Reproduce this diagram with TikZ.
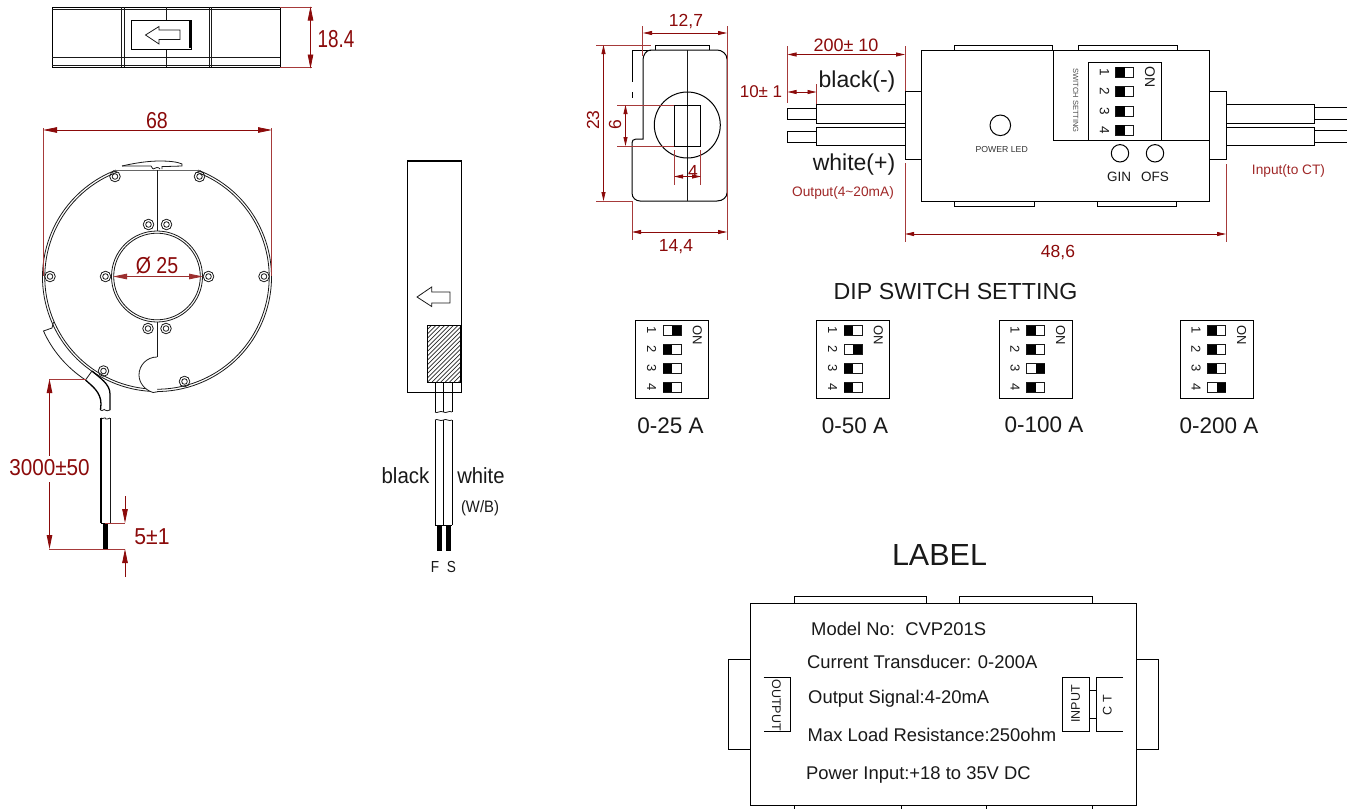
\documentclass[tikz,border=0pt]{standalone}
\usepackage{fontspec}
\usepackage{graphicx}
\setmainfont{Liberation Sans}
\usetikzlibrary{arrows.meta}
\definecolor{dimred}{HTML}{8B0A0A}
\definecolor{extred}{HTML}{A63A3A}
\definecolor{notered}{HTML}{A02828}
\newcommand{\fs}[1]{\fontsize{#1}{#1}\selectfont}
\newcommand{\cond}[2]{\scalebox{#1}[1]{#2}}
\tikzset{
  obj/.style={draw=black,line width=1pt},
  thin obj/.style={draw=black!90,line width=.8pt},
  dimline/.style={draw=dimred,line width=.8pt},
  extline/.style={draw=extred,line width=.8pt},
  big/.style={dimline,{Triangle[length=14pt,width=5.5pt]}-{Triangle[length=14pt,width=5.5pt]}},
  small/.style={dimline,{Triangle[length=9pt,width=4pt]}-{Triangle[length=9pt,width=4pt]}},
  dimtext/.style={text=dimred,inner sep=0pt},
  lbl/.style={text=black!90,inner sep=0pt},
  lefttext/.style={lbl,anchor=west,font=\fs{18.4}}
}
\newcommand{\screw}[2]{%
  \draw[thin obj] (#1,#2) circle[radius=5.3];
  \draw[thin obj] (#1,#2) circle[radius=2.8];}
% #1 left edge of switch, #2 top y, #3 height, #4 1 if inverted
\newcommand{\sw}[4]{%
  \draw[thin obj] (#1,#2) rectangle ++(18,#3);
  \ifnum#4=1
    \fill[black] (#1+9,#2) rectangle ++(9,#3);
  \else
    \fill[black] (#1,#2) rectangle ++(9,#3);
  \fi}
% #1 box left, #2 inverted row
\newcommand{\dipbox}[3]{%
  \draw[obj] (#1,320) rectangle ++(73,78.3);
  \foreach \r/\yy in {1/325.7,2/344.6,3/363.5,4/382.7}{
    \ifnum\r=#2 \sw{#1+27.6}{\yy}{9.5}{1}\else\sw{#1+27.6}{\yy}{9.5}{0}\fi
    \node[lbl,rotate=-90,font=\fs{13}] (#3n\r) at (#1+16,\yy+4.8) {\r};
  }
  \node[lbl,rotate=-90,font=\fs{13}] (#3on) at (#1+61.6,335) {ON};}
\begin{document}
\begin{tikzpicture}[x=1pt,y=-1pt]
\useasboundingbox (0,0) rectangle (1347,809);
\fill[white] (0,0) rectangle (1347,809);

% ---- top view
\draw[obj] (52,7.3) rectangle (280,67.3);
\draw[thin obj] (52,9.3)--(280,9.3) (52,57.5)--(280,57.5) (52,65.3)--(280,65.3);
\draw[thin obj] (121,7.3)--(121,67.3) (124,7.3)--(124,67.3) (209,7.3)--(209,67.3) (211,7.3)--(211,67.3);
\draw[thin obj] (166,7.3)--(166,20.5) (166,49.5)--(166,67.3);
\draw[obj] (131.5,20.5) rectangle (191,49.5);
\draw[obj,line width=1.6pt] (190,21)--(190,48);
\draw[thin obj] (145.5,35)--(159,26.5)--(159,30)--(180,30)--(180,39.5)--(159,39.5)--(159,44)--cycle;
\draw[extline] (280,7.3)--(312,7.3) (280,67.5)--(312,67.5);
\draw[big] (310.5,6.5)--(310.5,68.5);
\node[dimtext,font=\fs{24.5}] (t184) at (336,39) {\cond{.77}{18.4}};

% ---- ring
\foreach \r in {114.5,112.2}{
  \draw[thin obj] (157,277) ++(-69:\r) arc[start angle=-69,end angle=249,radius=\r];
}
\draw[thin obj] (157,276.5) circle[radius=45.5];
\draw[thin obj] (157,276.5) circle[radius=43.3];
\draw[obj,draw=black!60,line width=1.4pt] (113,170.3)--(201,170.3);
\draw[thin obj] (157,170)--(157,231) (157,322)--(157,357);
\draw[thin obj] (122,166) .. controls (135,163) and (148,161) .. (160,161) .. controls (170,161) and (178,162) .. (182,164)--(182,166)--(166,166.5)--(162,166.5)--(162,169);
\draw[thin obj] (122,166)--(151,166)--(153,169);
\draw[thin obj] (153,169) .. controls (155,167) and (159,167) .. (160,169);
\fill[white] (157,357) .. controls (147,357) and (139,365) .. (139,375) .. controls (139,383) and (145,390) .. (153,392.5) -- (157,394) -- cycle;
\draw[thin obj] (157,357) .. controls (147,357) and (139,365) .. (139,375) .. controls (139,383) and (145,390) .. (153,392.5)--(158,391.7);
\screw{115}{176.5}\screw{199.5}{176.5}\screw{148.5}{224.5}\screw{166.5}{224.5}
\screw{50}{276.5}\screw{105.5}{276.5}\screw{208.5}{276.5}\screw{264}{276.5}
\screw{148}{328.5}\screw{166}{328.5}\screw{103.5}{371}\screw{184.5}{381.5}
% left strip + cable
\draw[thin obj] (53.5,322)--(52,328)--(43.5,331) .. controls (52,350) and (66,367) .. (85.5,380);
\draw[thin obj] (85.5,380)--(92,371);
\draw[obj,line width=1.3pt] (85.5,380) .. controls (92,386) and (101,392) .. (101,404)--(100.5,410);
\draw[obj,line width=1.3pt] (92,371) .. controls (100,378) and (110,384) .. (110,394)--(110,410);
\draw[thin obj] (100.5,410) .. controls (103,412) and (104,408) .. (105,410) .. controls (106,412) and (108,410) .. (110,410);
\draw[thin obj] (101,418) .. controls (103,420) and (105,416) .. (106,419) .. controls (107,420) and (109,418) .. (110,418);
\draw[obj,line width=1.4pt] (101,418)--(101,523);
\draw[thin obj] (110,418)--(110,523);
\draw[obj] (101,523)--(110,523);
\fill[black] (103,523) rectangle (107.5,549);
% dims ring
\draw[extline] (43,128)--(43,276) (271.5,128)--(271.5,276);
\draw[big] (43,130)--(272,130);
\node[dimtext,font=\fs{23}] (t68) at (157,121) {\cond{.85}{68}};
\draw[big,draw=dimred!85] (113,276.5)--(203,276.5);
\node[dimtext,font=\fs{23}] (t25) at (157,266) {\cond{.85}{Ø 25}};
\draw[extline] (49,379)--(86,379) (49,549)--(125,549) (105,523)--(125,523);
\draw[dimline,{Triangle[length=14pt,width=5.5pt]}-] (49.5,379)--(49.5,456);
\draw[dimline,-{Triangle[length=14pt,width=5.5pt]}] (49.5,482)--(49.5,549);
\node[dimtext,font=\fs{23}] (t3000) at (49.5,468) {\cond{.9}{3000±50}};
\draw[dimline,-{Triangle[length=14pt,width=5.5pt]}] (125,496)--(125,523);
\draw[dimline,-{Triangle[length=14pt,width=5.5pt]}] (125,577)--(125,549);
\node[dimtext,font=\fs{23}] (t5) at (152,537) {\cond{.92}{5±1}};

% ---- side view
\draw[obj] (407.5,160.7) rectangle (461.7,392.7);
\draw[obj,line width=1.6pt] (407.5,160.7)--(461.7,160.7);
\draw[thin obj] (417,297)--(431.7,287)--(431.7,292)--(450,292)--(450,303)--(431.7,303)--(431.7,306.5)--cycle;
\draw[obj,fill=white] (427.5,325) rectangle (460,382);
\begin{scope}
  \clip (427.5,325) rectangle (460,382);
  \foreach \k in {0,4.4,...,93}{
    \draw[black!85,line width=.7pt] (370.5+\k,382)--(427.5+\k,325);
  }
\end{scope}
\draw[obj] (427.5,325) rectangle (460,382);
\foreach \xx in {435,443.5,452}{
  \draw[obj] (\xx,382)--(\xx,412) (\xx,420)--(\xx,525);
}
\draw[thin obj] (435,412) .. controls (437,414) and (440,410) .. (443.5,412) .. controls (446,414) and (449,410) .. (452,412);
\draw[thin obj] (435,420) .. controls (437,418) and (440,422) .. (443.5,420) .. controls (446,418) and (449,422) .. (452,420);
\draw[obj] (435,525)--(452,525);
\fill[black] (437,525) rectangle (441.5,551);
\fill[black] (446,525) rectangle (450.5,551);
\node[lbl,font=\fs{22}] (tblack) at (405.5,476) {\cond{.93}{black}};
\node[lbl,font=\fs{22}] (twhite) at (481,476) {\cond{.92}{white}};
\node[lbl,font=\fs{16.5}] (twb) at (480,508) {\cond{.9}{(W/B)}};
\node[lbl,font=\fs{16}] (tf) at (435,567) {\cond{.85}{F}};
\node[lbl,font=\fs{16}] (ts) at (451.5,567) {\cond{.85}{S}};

% ---- end view
\draw[obj] (655,50)--(655,45)--(709,45)--(709,50);
\draw[obj] (651,50) .. controls (646,50) and (643,55) .. (643,60)--(643,139)--(636,139) .. controls (633,139) and (632,141) .. (632,143)--(632,193) .. controls (632,198) and (636,201) .. (640,201)--(717,201) .. controls (723,201) and (727,197) .. (727,193)--(727,59) .. controls (727,54) and (722,50) .. (717,50)--cycle;
\draw[obj] (651,50)--(632,50)--(632,82) (632,92)--(632,98);
\draw[thin obj] (687.7,50)--(687.7,201);
\draw[obj] (687.3,125) circle[radius=33];
\draw[obj] (674.3,105) rectangle (700.7,146);
\draw[extline] (642.5,26)--(642.5,56) (727,26)--(727,240);
\draw[small] (643,33)--(727,33);
\node[dimtext,font=\fs{17.5}] (t127) at (686,22) {12,7};
\draw[extline] (632,201)--(632,240);
\draw[small] (632,232)--(727,232);
\node[dimtext,font=\fs{17.5}] (t144) at (676,247) {14,4};
\draw[extline] (596,45)--(651,45) (596,201)--(632,201);
\draw[small] (603.5,45)--(603.5,201);
\node[dimtext,font=\fs{17.5},rotate=90] (t23) at (593,120) {23};
\draw[extline] (617,105)--(674,105) (617,146)--(674,146);
\draw[small] (625.5,105)--(625.5,146);
\node[dimtext,font=\fs{17.5},rotate=90] (t6) at (615,125) {6};
\draw[extline] (674.3,150)--(674.3,185) (700.7,150)--(700.7,185);
\draw[small] (674,176.5)--(701,176.5);
\node[dimtext,font=\fs{17.5}] (t4) at (693,171) {4};

% ---- module
\draw[obj] (954,50)--(954,45)--(1052.7,45)--(1052.7,50);
\draw[obj] (1078,50)--(1078,45)--(1177,45)--(1177,50);
\draw[obj] (954.5,201.3)--(954.5,206)--(1034.3,206)--(1034.3,201.3);
\draw[obj] (1097,201.3)--(1097,206)--(1176,206)--(1176,201.3);
\draw[obj] (921.3,50) rectangle (1209.3,201.3);
\draw[obj] (921.3,91.7)--(905,91.7)--(905,159)--(921.3,159);
\draw[obj] (1209.3,91.7)--(1226,91.7)--(1226,159)--(1209.3,159);
\draw[obj] (816.5,104) rectangle (905,123);
\draw[obj] (816.5,127) rectangle (905,145.5);
\draw[obj] (787.5,108) rectangle (816.5,119.5);
\draw[obj] (787.5,131) rectangle (816.5,142.5);
\draw[obj] (1226,104) rectangle (1314.5,123);
\draw[obj] (1226,127) rectangle (1314.5,145.5);
\draw[obj] (1347,107)--(1314.5,107) (1347,119)--(1314.5,119) (1347,130.7)--(1314.5,130.7) (1347,142.7)--(1314.5,142.7);
\draw[obj] (1053.7,50)--(1053.7,140.3)--(1209.3,140.3);
\draw[obj] (1088.5,140.3)--(1088.5,62.5)--(1161,62.5)--(1161,140.3);
\foreach \r/\yy in {1/67.3,2/86.7,3/106.3,4/125.3}{
  \sw{1115.5}{\yy}{10}{0}
  \node[lbl,rotate=-90,font=\fs{13.5}] (mn\r) at (1104.5,\yy+5) {\r};
}
\node[lbl,rotate=-90,font=\fs{14}] (mon) at (1150,76.7) {ON};
\node[lbl,rotate=-90,font=\fs{7.5},text=black!70] (mset) at (1075.7,100.7) {SWITCH SETTING};
\draw[obj] (1000.3,125.3) circle[radius=10.3];
\node[lbl,font=\fs{8.7},text=black!80] (mled) at (1001.7,149.5) {POWER LED};
\draw[obj] (1120,153.3) circle[radius=8.7];
\draw[obj] (1155,153.3) circle[radius=8.7];
\node[lbl,font=\fs{13.5}] (mgin) at (1119,177) {GIN};
\node[lbl,font=\fs{13.5}] (mofs) at (1155,177) {OFS};
\node[lbl,font=\fs{23}] (mblack) at (857,81.5) {black(-)};
\node[lbl,font=\fs{23}] (mwhite) at (854,165) {white(+)};
\node[dimtext,text=notered,font=\fs{13.7}] (mout) at (843,193) {Output(4\textasciitilde20mA)};
\node[dimtext,text=notered,font=\fs{13.7}] (minp) at (1288.5,170.5) {Input(to CT)};
\draw[extline] (787.5,46)--(787.5,103) (905,46)--(905,91) (816.5,84)--(816.5,104);
\draw[small] (787.5,54.5)--(905,54.5);
\node[dimtext,font=\fs{18}] (m200) at (846,45) {200± 10};
\draw[small] (787.5,92)--(816.5,92);
\node[dimtext,font=\fs{17}] (m10) at (761,92) {10± 1};
\draw[extline] (905,163)--(905,242) (1226,164)--(1226,242);
\draw[small] (905,234)--(1226,234);
\node[dimtext,font=\fs{17.5}] (m486) at (1058,253) {48,6};

% ---- DIP settings
\node[lbl,font=\fs{23.2}] (dtitle) at (955.5,292) {DIP SWITCH SETTING};
\dipbox{635.7}{1}{a}
\dipbox{816.7}{2}{b}
\dipbox{999}{3}{c}
\dipbox{1180}{4}{d}
\node[lbl,font=\fs{22.5}] (da) at (670.5,426) {0-25 A};
\node[lbl,font=\fs{22.5}] (db) at (855,426) {0-50 A};
\node[lbl,font=\fs{22.5}] (dc) at (1044,424.5) {0-100 A};
\node[lbl,font=\fs{22.5}] (dd) at (1219,426) {0-200 A};

% ---- label
\node[lbl,font=\fs{30.5}] (ltitle) at (939.5,555) {LABEL};
\draw[obj] (794,603.3)--(794,596.7)--(926,596.7)--(926,603.3);
\draw[obj] (959.7,603.3)--(959.7,596.7)--(1092.7,596.7)--(1092.7,603.3);
\draw[obj] (750.3,603.3) rectangle (1136,805);
\draw[obj] (750.3,659.7)--(728.7,659.7)--(728.7,749.7)--(750.3,749.7);
\draw[obj] (1136,659.7)--(1158.7,659.7)--(1158.7,749.7)--(1136,749.7);
\draw[obj] (794.7,805)--(794.7,809) (901,805)--(901,809) (986,805)--(986,809) (1092,805)--(1092,809);
\draw[obj] (763.7,677.3)--(790.3,677.3)--(790.3,731)--(763.7,731);
\draw[obj] (1062.3,677.3) rectangle (1089,731);
\draw[obj] (1123,677.3)--(1096.3,677.3)--(1096.3,731)--(1123,731);
\draw[obj] (1089,690.7)--(1096.3,690.7) (1089,718)--(1096.3,718);
\node[lbl,rotate=-90,font=\fs{12.5}] (lout) at (776.5,705) {OUTPUT};
\node[lbl,rotate=90,font=\fs{12.5}] (lin) at (1075.5,704) {INPUT};
\node[lbl,rotate=90,font=\fs{12.5}] (lct) at (1107.3,705) {C T};
\node[lefttext] (l1) at (811,629) {Model No:\ \ CVP201S};
\node[lefttext] (l2) at (807,662) {Current Transducer: 0-200A};
\node[lefttext] (l3) at (808,698.5) {Output Signal:4-20mA};
\node[lefttext] (l4) at (807.5,735) {Max Load Resistance:250ohm};
\node[lefttext] (l5) at (806,774.5) {Power Input:+18 to 35V DC};
\end{tikzpicture}
\end{document}
